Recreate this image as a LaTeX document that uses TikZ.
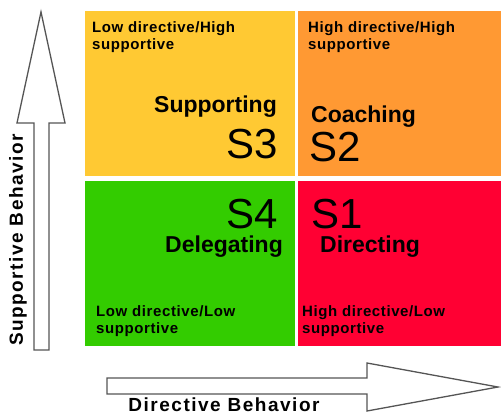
\documentclass[tikz,border=0pt]{standalone}
\usepackage{fontspec}
\usepackage{xcolor}
\usepackage{tikz}
\setmainfont{Liberation Sans}
\newfontfamily\notefont{Liberation Sans}[LetterSpace=4]
\newfontfamily\axisfont{Liberation Sans}[LetterSpace=8]
\definecolor{supportcolor}{HTML}{FFC933}
\definecolor{coachcolor}{HTML}{FF9933}
\definecolor{delegatecolor}{HTML}{33CC00}
\definecolor{directcolor}{HTML}{FF0033}
\definecolor{arrowgray}{HTML}{555555}
\tikzset{
  quad/.style={draw=white, line width=0.8pt},
  notetxt/.style={inner sep=0pt, align=left, font=\notefont\bfseries\fontsize{15}{17}\selectfont},
  styletxt/.style={inner sep=0pt, font=\bfseries\fontsize{23}{26}\selectfont},
  codetxt/.style={inner sep=0pt, font=\fontsize{42}{46}\selectfont},
  axistxt/.style={inner sep=0pt, font=\axisfont\bfseries\fontsize{19}{22}\selectfont},
  bigarrow/.style={draw=arrowgray, line width=1.3pt, fill=white, line join=miter}
}

\begin{document}
\begin{tikzpicture}[x=1pt, y=-1pt]%
\useasboundingbox (0,0) rectangle (501,416);%
% quadrants
\fill[supportcolor, quad] (84,10) rectangle (295,176);%
\fill[coachcolor, quad] (297,10) rectangle (502,176);%
\fill[delegatecolor, quad] (84,180) rectangle (295,346);%
\fill[directcolor, quad] (297,180) rectangle (502,346);%
% S3
\node[notetxt, anchor=base west] (noteS3) at (92,49) {Low directive/High\\supportive};%
\node[styletxt, anchor=base east] (nameS3) at (277,112) {Supporting};%
\node[codetxt, anchor=base east] (codeS3) at (278,158) {S3};%
% S2
\node[notetxt, anchor=base west] (noteS2) at (308,49) {High directive/High\\supportive};%
\node[styletxt, anchor=base west] (nameS2) at (311,122) {Coaching};%
\node[codetxt, anchor=base west] (codeS2) at (309,161) {S2};%
% S4
\node[codetxt, anchor=base east] (codeS4) at (278,228) {S4};%
\node[styletxt, anchor=base east] (nameS4) at (283,252) {Delegating};%
\node[notetxt, anchor=base west] (noteS4) at (96,333) {Low directive/Low\\supportive};%
% S1
\node[codetxt, anchor=base west] (codeS1) at (311,228) {S1};%
\node[styletxt, anchor=base west] (nameS1) at (320,252) {Directing};%
\node[notetxt, anchor=base west] (noteS1) at (302,333) {High directive/Low\\supportive};%
% axes
\draw[bigarrow] (41,12) -- (65,123) -- (49,123) -- (49,350) -- (34,350) -- (34,123) -- (17,123) -- cycle;%
\draw[bigarrow] (107,378) -- (367,378) -- (367,363) -- (498,387) -- (367,411) -- (367,394) -- (107,394) -- cycle;%
\node[axistxt, rotate=90] (supportaxis) at (18,240) {Supportive Behavior};%
\node[axistxt, anchor=base] (directaxis) at (224,411) {Directive Behavior};%
\end{tikzpicture}
\end{document}
